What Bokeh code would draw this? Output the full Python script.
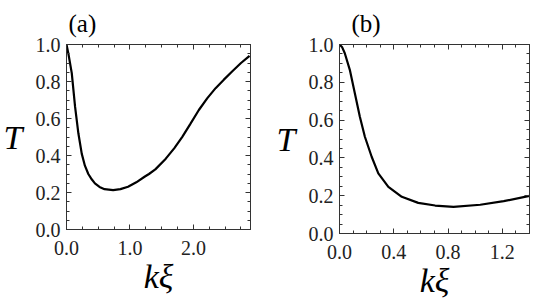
from bokeh.plotting import figure
from bokeh.layouts import row
from bokeh.models import LinearAxis, PrintfTickFormatter, CustomJSTickFormatter, FixedTicker
from bokeh.embed import file_html
from bokeh.resources import INLINE
import numpy as np

# ---- data ----
a_k = [0.0, 0.03, 0.083, 0.135, 0.187, 0.24, 0.29, 0.344, 0.40, 0.448, 0.52, 0.60,
       0.735, 0.85, 0.97, 1.10, 1.23, 1.30, 1.40, 1.565, 1.70, 1.825, 1.95, 2.086,
       2.22, 2.35, 2.48, 2.61, 2.75, 2.885]
a_T = [1.0, 0.95, 0.845, 0.664, 0.52, 0.41, 0.345, 0.30, 0.27, 0.249, 0.23, 0.218,
       0.213, 0.218, 0.231, 0.255, 0.285, 0.30, 0.325, 0.383, 0.44, 0.501, 0.57, 0.646,
       0.71, 0.764, 0.81, 0.854, 0.90, 0.939]

b_k = [0.0, 0.02, 0.039, 0.076, 0.113, 0.15, 0.187, 0.237, 0.286, 0.36, 0.459, 0.58,
       0.705, 0.84, 1.037, 1.21, 1.40]
b_T = [1.0, 0.985, 0.954, 0.866, 0.742, 0.618, 0.512, 0.406, 0.318, 0.247, 0.194, 0.162,
       0.148, 0.141, 0.152, 0.171, 0.199]

a_xticks = [0.0, 1.0, 2.0]
b_xticks = [0.0, 0.4, 0.8, 1.2]
yticks = [0.0, 0.2, 0.4, 0.6, 0.8, 1.0]
panel_labels = ["(a)", "(b)"]
x_label = "kξ"
y_label = "T"

SERIF = "Liberation Serif"
AX = "#333333"


def style_axis(ax, labels=True):
    ax.major_tick_in = 5
    ax.major_tick_out = 0
    ax.minor_tick_in = 3
    ax.minor_tick_out = 0
    ax.axis_line_color = AX
    ax.major_tick_line_color = AX
    ax.minor_tick_line_color = AX
    if labels:
        ax.major_label_text_font = SERIF
        ax.major_label_text_font_size = "20px"
        ax.major_label_text_color = "#222222"
        ax.formatter = PrintfTickFormatter(format="%.1f")
        ax.axis_label_text_font = SERIF
        ax.axis_label_text_font_style = "italic"
        ax.axis_label_text_font_size = "34px"
        ax.axis_label_text_color = "black"
    else:
        ax.formatter = CustomJSTickFormatter(code="return ''")
        ax.major_label_text_font_size = "0px"
        ax.major_label_standoff = 0


def panel(xs, ys, xmax, xticks, xminor_step, plabel, fw, fh, bl, br, bt, title_off, title_standoff):
    p = figure(frame_width=fw, frame_height=fh, x_range=(0, xmax), y_range=(0, 1),
               output_backend="svg", toolbar_location=None,
               min_border_left=bl, min_border_right=br, min_border_top=bt,
               min_border_bottom=66)
    p.grid.visible = False
    p.outline_line_color = AX
    p.background_fill_color = "white"
    p.border_fill_color = "white"

    xminor = [float(v) for v in np.arange(0, xmax + 1e-9, xminor_step)]
    yminor = [float(v) for v in np.arange(0, 1.0001, 0.05)]

    p.xaxis.ticker = FixedTicker(ticks=xticks, minor_ticks=xminor)
    p.yaxis.ticker = FixedTicker(ticks=yticks, minor_ticks=yminor)
    for ax in p.xaxis:
        style_axis(ax)
        ax.major_label_standoff = 11
        ax.axis_label = x_label
        ax.axis_label_standoff = 0
    for ax in p.yaxis:
        style_axis(ax)
        ax.major_label_standoff = 6
        ax.axis_label = y_label
        ax.axis_label_standoff = 10
        if "axis_label_orientation" in ax.properties():
            ax.axis_label_orientation = "horizontal"

    top = LinearAxis(ticker=FixedTicker(ticks=xticks, minor_ticks=xminor))
    style_axis(top, labels=False)
    p.add_layout(top, "above")
    right = LinearAxis(ticker=FixedTicker(ticks=yticks, minor_ticks=yminor))
    style_axis(right, labels=False)
    p.add_layout(right, "right")

    p.title.text = plabel
    p.title.align = "left"
    p.title.vertical_align = "top"
    p.title.offset = title_off
    p.title.text_font = SERIF
    p.title.text_font_style = "normal"
    p.title.text_font_size = "25px"
    p.title.text_color = "black"
    p.title.standoff = title_standoff

    p.line(xs, ys, line_color="black", line_width=2.2)
    return p


p1 = panel(a_k, a_T, 2.9, a_xticks, 0.25, panel_labels[0], 184, 185, 66, 19, 44, 2, 12)
p2 = panel(b_k, b_T, 1.4, b_xticks, 0.1, panel_labels[1], 190, 189, 70, 2, 42, 12, 12)

layout = row(p1, p2)
open("out.html", "w").write(file_html(layout, INLINE))
